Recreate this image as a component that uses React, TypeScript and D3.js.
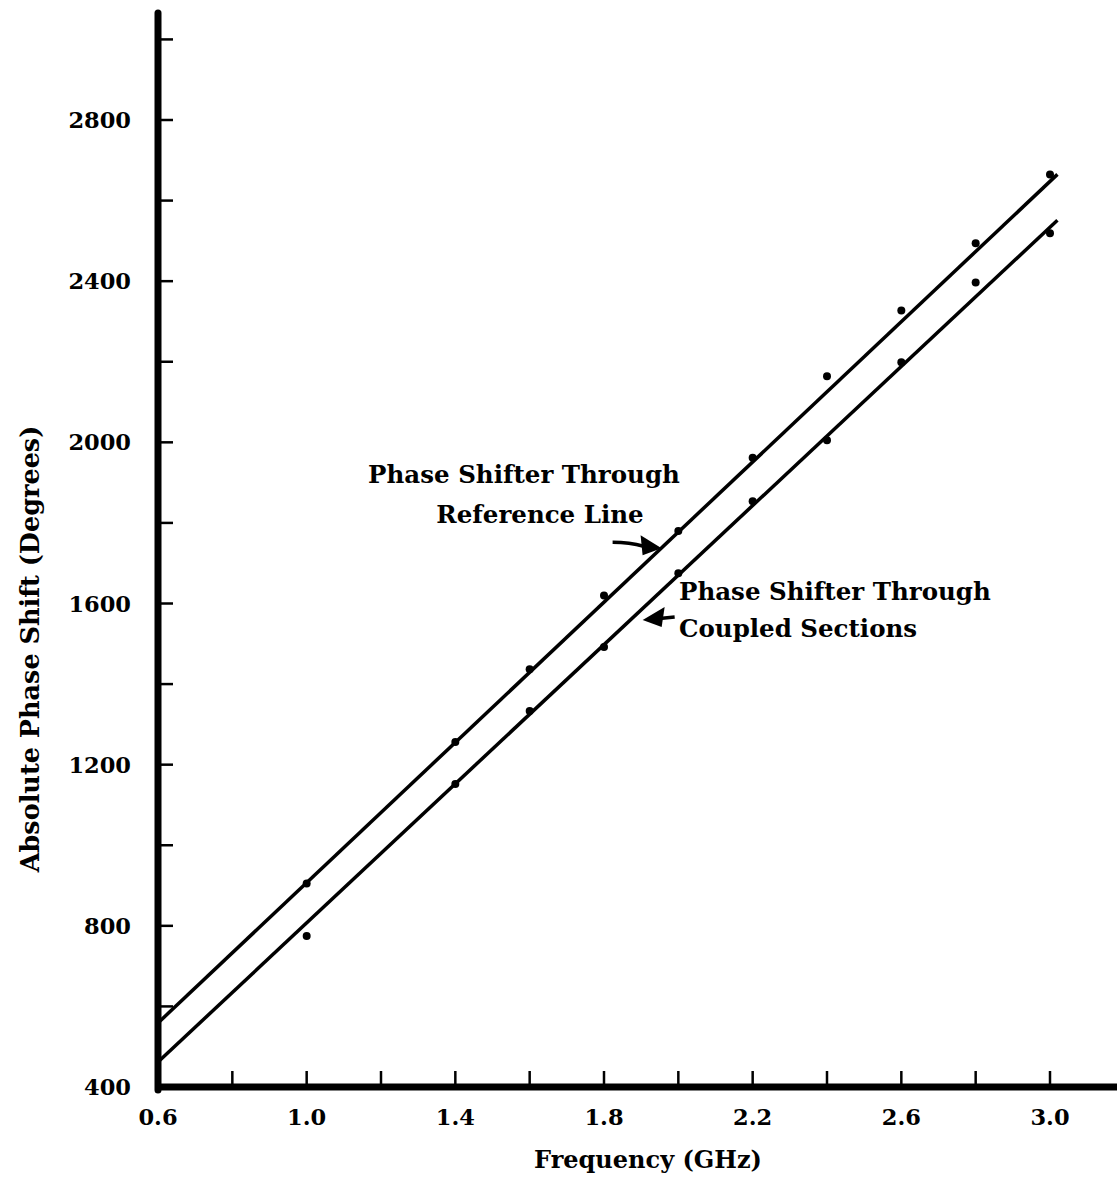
import React, { useRef, useEffect } from 'react';
import * as d3 from 'd3';

const freqs = [1.0, 1.4, 1.6, 1.8, 2.0, 2.2, 2.4, 2.6, 2.8, 3.0];
const refPhase = [905, 1256, 1437, 1620, 1780, 1962, 2164, 2327, 2494, 2665];
const coupledPhase = [775, 1152, 1333, 1492, 1675, 1854, 2005, 2199, 2397, 2519];

// straight fitted lines (end points)
const fitFreqs = [0.6, 3.02];
const refFit = [559, 2665];
const coupledFit = [462, 2551];

const xTickLabels = [0.6, 1.0, 1.4, 1.8, 2.2, 2.6, 3.0];
const yTickLabels = [400, 800, 1200, 1600, 2000, 2400, 2800];

const W = 1117;
const H = 1177;
const FONT = '"DejaVu Serif", serif';

export default function App() {
    const svgRef = useRef<SVGSVGElement>(null);

    useEffect(() => {
        const svg = d3.select(svgRef.current);
        svg.selectAll('*').remove();

        const xScale = d3.scaleLinear().domain([0.6, 3.0]).range([158, 1050]);
        const yScale = d3.scaleLinear().domain([400, 2800]).range([1087, 120]);

        // data lines
        const myLine = d3.line<[number, number]>()
            .x(d => xScale(d[0]))
            .y(d => yScale(d[1]));

        [refFit, coupledFit].forEach(fit => {
            svg.append('path')
                .attr('d', myLine(fitFreqs.map((f, i) => [f, fit[i]]) as [number, number][]))
                .attr('stroke', '#000')
                .attr('stroke-width', 3.5)
                .attr('fill', 'none');
        });

        [refPhase, coupledPhase].forEach(series => {
            svg.selectAll(null)
                .data(freqs.map((f, i) => [f, series[i]]))
                .join('circle')
                .attr('cx', d => xScale(d[0]))
                .attr('cy', d => yScale(d[1]))
                .attr('r', 4)
                .attr('fill', '#000');
        });

        // x axis
        const x0 = xScale(0.6);
        const y0 = yScale(400);
        svg.append('line')
            .attr('x1', x0 - 3).attr('x2', W)
            .attr('y1', y0).attr('y2', y0)
            .attr('stroke', '#000').attr('stroke-width', 7);

        const xMinor = d3.range(0.8, 3.01, 0.2);
        svg.selectAll(null)
            .data(xMinor)
            .join('line')
            .attr('x1', d => xScale(d)).attr('x2', d => xScale(d))
            .attr('y1', y0).attr('y2', y0 - 16)
            .attr('stroke', '#000').attr('stroke-width', 2.5);

        svg.selectAll(null)
            .data(xTickLabels)
            .join('text')
            .attr('x', d => xScale(d))
            .attr('y', 1125)
            .attr('text-anchor', 'middle')
            .attr('font-family', FONT)
            .attr('font-weight', 'bold')
            .attr('font-size', 22.5)
            .text(d => d.toFixed(1));

        svg.append('text')
            .attr('x', 648)
            .attr('y', 1168)
            .attr('text-anchor', 'middle')
            .attr('font-family', FONT)
            .attr('font-weight', 'bold')
            .attr('font-size', 24)
            .text('Frequency (GHz)');

        // y axis
        svg.append('line')
            .attr('x1', x0).attr('x2', x0)
            .attr('y1', y0 + 3).attr('y2', 13)
            .attr('stroke', '#000').attr('stroke-width', 7)
            .attr('stroke-linecap', 'round');

        const yMinor = d3.range(600, 3001, 200);
        svg.selectAll(null)
            .data(yMinor)
            .join('line')
            .attr('x1', x0).attr('x2', x0 + 15)
            .attr('y1', d => yScale(d)).attr('y2', d => yScale(d))
            .attr('stroke', '#000').attr('stroke-width', 2.5);

        svg.selectAll(null)
            .data(yTickLabels)
            .join('text')
            .attr('x', 131)
            .attr('y', d => yScale(d))
            .attr('dy', '0.36em')
            .attr('text-anchor', 'end')
            .attr('font-family', FONT)
            .attr('font-weight', 'bold')
            .attr('font-size', 22.5)
            .text(d => d);

        svg.append('text')
            .attr('transform', `translate(39, 649) rotate(-90)`)
            .attr('text-anchor', 'middle')
            .attr('font-family', FONT)
            .attr('font-weight', 'bold')
            .attr('font-size', 25.5)
            .text('Absolute Phase Shift (Degrees)');

        // annotations
        const note = (x: number, y: number, s: string, anchor: string) =>
            svg.append('text')
                .attr('x', x).attr('y', y)
                .attr('text-anchor', anchor)
                .attr('font-family', FONT)
                .attr('font-weight', 'bold')
                .attr('font-size', 24.5)
                .text(s);

        note(524, 483, 'Phase Shifter Through', 'middle');
        note(540, 523, 'Reference Line', 'middle');
        note(679, 600, 'Phase Shifter Through', 'start');
        note(679, 637, 'Coupled Sections', 'start');

        // arrow to reference line
        const t1x = xScale(1.955), t1y = yScale(1737);
        svg.append('path')
            .attr('d', `M${t1x - 49},${t1y - 6} Q${t1x - 32},${t1y - 6} ${t1x - 18},${t1y - 2}`)
            .attr('stroke', '#000').attr('stroke-width', 3.5).attr('fill', 'none');
        svg.append('path')
            .attr('d', `M${t1x},${t1y} L${t1x - 21},${t1y - 13} L${t1x - 19},${t1y + 7} Z`)
            .attr('fill', '#000');

        // arrow to coupled line
        const t2x = xScale(1.904), t2y = yScale(1559);
        svg.append('path')
            .attr('d', `M${t2x + 32},${t2y - 3} L${t2x + 12},${t2y - 1}`)
            .attr('stroke', '#000').attr('stroke-width', 3.5).attr('fill', 'none');
        svg.append('path')
            .attr('d', `M${t2x},${t2y} L${t2x + 22},${t2y - 13} L${t2x + 19},${t2y + 7} Z`)
            .attr('fill', '#000');
    }, []);

    return (
        <svg
            ref={svgRef}
            width={W}
            height={H}
            style={{ position: 'absolute', left: 0, top: 0, background: '#fff' }}
        />
    );
}
